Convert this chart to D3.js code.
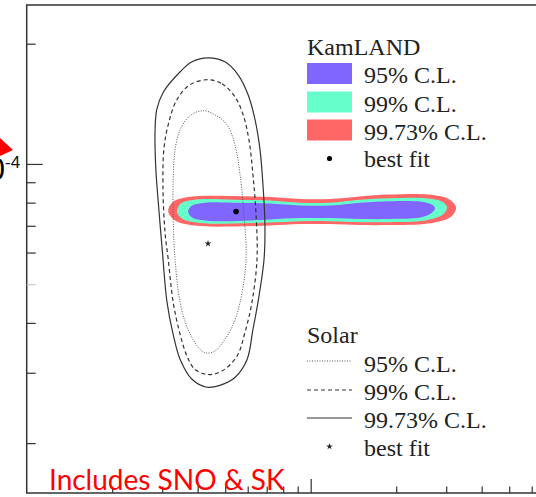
<!DOCTYPE html>
<html>
<head>
<meta charset="utf-8">
<script src="https://cdn.jsdelivr.net/npm/d3@7"></script>
<style>
  body { margin: 0; background: #fff; }
  svg { display: block; }
</style>
</head>
<body>
<script>
// x: tan^2(theta12), y: delta m^2_21 in units of 1e-5 eV^2
var kamland95 = [[0.370,7.60],[0.382,7.87],[0.424,8.00],[0.533,8.00],[0.719,7.96],[0.917,7.87],
  [1.17,7.87],[1.49,8.00],[1.90,8.07],[2.43,8.05],[2.67,7.91],[2.74,7.73],[2.65,7.51],[2.43,7.34],
  [1.90,7.28],[1.49,7.28],[1.17,7.32],[0.917,7.32],[0.719,7.26],[0.533,7.19],[0.424,7.22],[0.382,7.34]];
var kamland99 = [[0.338,7.60],[0.349,7.96],[0.391,8.14],[0.533,8.14],[0.719,8.10],[0.917,8.00],
  [1.17,8.00],[1.49,8.14],[1.90,8.21],[2.53,8.21],[2.90,8.05],[3.02,7.78],[2.92,7.47],[2.53,7.22],
  [1.90,7.15],[1.49,7.15],[1.17,7.19],[0.917,7.19],[0.719,7.13],[0.533,7.09],[0.408,7.11],[0.352,7.30]];
var kamland9973 = [[0.315,7.60],[0.325,8.00],[0.370,8.26],[0.533,8.31],[0.719,8.26],[0.917,8.17],
  [1.17,8.17],[1.49,8.29],[1.90,8.38],[2.59,8.38],[3.09,8.14],[3.25,7.78],[3.12,7.38],[2.59,7.09],
  [1.90,7.03],[1.49,7.03],[1.17,7.07],[0.917,7.07],[0.719,7.01],[0.533,6.97],[0.391,7.01],[0.333,7.22]];
var kamlandBest = [0.546, 7.60];

var solar95 = [[0.418,13.59],[0.460,13.28],[0.507,12.54],[0.541,11.17],[0.564,9.40],[0.582,7.47],
  [0.592,5.77],[0.564,4.50],[0.528,3.90],[0.491,3.58],[0.460,3.40],[0.431,3.36],[0.408,3.43],
  [0.370,3.85],[0.347,4.50],[0.333,5.77],[0.328,7.26],[0.328,9.14],[0.333,10.86],[0.347,12.18],[0.376,13.21]];
var solar99 = [[0.435,16.25],[0.487,15.88],[0.541,14.73],[0.578,13.28],[0.606,11.50],[0.626,9.40],
  [0.642,7.47],[0.647,5.77],[0.621,4.50],[0.587,3.79],[0.550,3.30],[0.487,3.03],[0.435,2.97],
  [0.391,3.06],[0.367,3.30],[0.347,3.74],[0.328,4.50],[0.315,5.77],[0.307,6.73],[0.302,8.63],
  [0.304,10.86],[0.315,12.54],[0.338,14.48],[0.376,15.79]];
var solar9973 = [[0.435,18.44],[0.499,18.02],[0.555,16.72],[0.602,14.90],[0.637,12.90],[0.663,10.86],
  [0.679,8.88],[0.690,7.05],[0.685,5.77],[0.652,4.50],[0.626,3.85],[0.597,3.24],[0.541,2.92],
  [0.479,2.79],[0.431,2.76],[0.382,2.89],[0.347,3.24],[0.328,3.74],[0.312,4.50],[0.300,6.11],
  [0.292,7.69],[0.285,9.68],[0.283,11.97],[0.287,13.67],[0.302,15.08],[0.347,17.01],[0.382,18.02]];
var solarBest = [0.435, 6.32];

var xMinorTicks = [0.2,0.3,0.4,0.5,0.6,0.7,0.8,0.9,2,3,4,5,6,7,8,9];
var xMajorTicks = [1];
var yMinorTicks = [2,3,4,6,7,8,9,20];
var yFaintTicks = [5];
var yMajorTicks = [10];

var kamlandLabels = ['95% C.L.', '99% C.L.', '99.73% C.L.', 'best fit'];
var solarLabels = ['95% C.L.', '99% C.L.', '99.73% C.L.', 'best fit'];
var kamlandColors = ['#8066ff', '#66ffcc', '#ff6666'];

var width = 536, height = 497;
var svg = d3.select('body').append('svg')
      .attr('width', width)
      .attr('height', height);

var xScale = d3.scaleLog().domain([0.1, 10]).range([26.7, 594.7]);
var yScale = d3.scaleLog().domain([1.5, 25]).range([493, 5]);

var line = d3.line()
      .x(function(d) { return xScale(d[0]); })
      .y(function(d) { return yScale(d[1]); })
      .curve(d3.curveCatmullRomClosed.alpha(0.5));

// KamLAND filled regions, outermost first
[[kamland9973, kamlandColors[2]], [kamland99, kamlandColors[1]], [kamland95, kamlandColors[0]]]
  .forEach(function(c) {
    svg.append('path').attr('d', line(c[0])).attr('fill', c[1]).attr('stroke', 'none');
  });

svg.append('circle')
  .attr('cx', xScale(kamlandBest[0])).attr('cy', yScale(kamlandBest[1]))
  .attr('r', 2.8).attr('fill', '#000');

// Solar contours
var solarStyles = [
  {data: solar95, dash: '1,1.5', color: '#555', w: 1},
  {data: solar99, dash: '4,3', color: '#333', w: 1.2},
  {data: solar9973, dash: null, color: '#333', w: 1.2}
];
solarStyles.forEach(function(s) {
  svg.append('path').attr('d', line(s.data))
    .attr('fill', 'none').attr('stroke', s.color)
    .attr('stroke-width', s.w).attr('stroke-dasharray', s.dash);
});

var star = d3.symbol().type(d3.symbolStar).size(14);
svg.append('path').attr('d', star())
  .attr('transform', 'translate(' + xScale(solarBest[0]) + ',' + yScale(solarBest[1]) + ')')
  .attr('fill', '#222');

// Frame
svg.append('rect')
  .attr('x', xScale(0.1)).attr('y', yScale(25))
  .attr('width', xScale(10) - xScale(0.1))
  .attr('height', yScale(1.5) - yScale(25))
  .attr('fill', 'none').attr('stroke', '#333').attr('stroke-width', 1.5);

// Axes with inward ticks
function addAxis(axis, transform, color) {
  var g = svg.append('g').attr('transform', transform).call(axis);
  g.select('.domain').remove();
  g.selectAll('.tick line').attr('stroke', color || '#333').attr('stroke-width', 1.2);
}
addAxis(d3.axisLeft(yScale).tickValues(yMinorTicks).tickSize(-9).tickFormat(''),
        'translate(' + xScale(0.1) + ',0)');
addAxis(d3.axisLeft(yScale).tickValues(yFaintTicks).tickSize(-9).tickFormat(''),
        'translate(' + xScale(0.1) + ',0)', '#c8c8c8');
addAxis(d3.axisLeft(yScale).tickValues(yMajorTicks).tickSize(-16).tickFormat(''),
        'translate(' + xScale(0.1) + ',0)');
addAxis(d3.axisBottom(xScale).tickValues(xMinorTicks).tickSize(-6.5).tickFormat(''),
        'translate(0,' + yScale(1.5) + ')');
addAxis(d3.axisBottom(xScale).tickValues(xMajorTicks).tickSize(-14).tickFormat(''),
        'translate(0,' + yScale(1.5) + ')');

// Cut-off y label 10^-4 and red arrow
var y4 = yScale(10);
svg.append('text').attr('x', 5).attr('y', y4 + 16)
  .attr('text-anchor', 'end')
  .style('font-family', 'Liberation Sans, Arial, sans-serif')
  .style('font-size', '31px').attr('fill', '#000').text('10');
svg.append('text').attr('x', 5).attr('y', y4 + 4)
  .style('font-family', 'Liberation Sans, Arial, sans-serif')
  .style('font-size', '17px').attr('fill', '#111').text('-4');
svg.append('path')
  .attr('d', 'M0,' + (y4 - 26) + 'L13,' + (y4 - 14) + 'L0,' + (y4 - 8) + 'Z')
  .attr('fill', '#ff0000');

// KamLAND legend
var serif = 'Liberation Serif, Times New Roman, serif';
var kl = svg.append('g');
kl.append('text').attr('x', 307).attr('y', 55).text('KamLAND');
var kRows = [83, 111.5, 139.5];
kamlandColors.forEach(function(c, i) {
  kl.append('rect').attr('x', 307).attr('y', kRows[i] - 20).attr('width', 45).attr('height', 21)
    .attr('fill', c);
});
kamlandLabels.forEach(function(t, i) {
  kl.append('text').attr('x', 364).attr('y', i < 3 ? kRows[i] : 167).text(t);
});
kl.append('circle').attr('cx', 329.5).attr('cy', 158.5).attr('r', 2.6).attr('fill', '#000');
kl.selectAll('text').style('font-family', serif).style('font-size', '24px').attr('fill', '#222');

// Solar legend
var sl = svg.append('g');
sl.append('text').attr('x', 307).attr('y', 343).text('Solar');
var sLines = [361, 390, 418];
solarStyles.forEach(function(s, i) {
  sl.append('line').attr('x1', 307).attr('x2', 352).attr('y1', sLines[i]).attr('y2', sLines[i])
    .attr('stroke', s.color).attr('stroke-width', 1)
    .attr('stroke-dasharray', s.dash);
});
var sRows = [371.5, 399.5, 427.5, 456];
solarLabels.forEach(function(t, i) {
  sl.append('text').attr('x', 364).attr('y', sRows[i]).text(t);
});
sl.append('path').attr('d', star())
  .attr('transform', 'translate(329.5,446.5)').attr('fill', '#222');
sl.selectAll('text').style('font-family', serif).style('font-size', '24px').attr('fill', '#222');

// Annotation
svg.append('text').attr('x', 49).attr('y', 490)
  .style('font-family', 'Lato, Open Sans, sans-serif')
  .style('font-size', '28px').attr('fill', '#ff0000')
  .text('Includes SNO & SK');
</script>
</body>
</html>
